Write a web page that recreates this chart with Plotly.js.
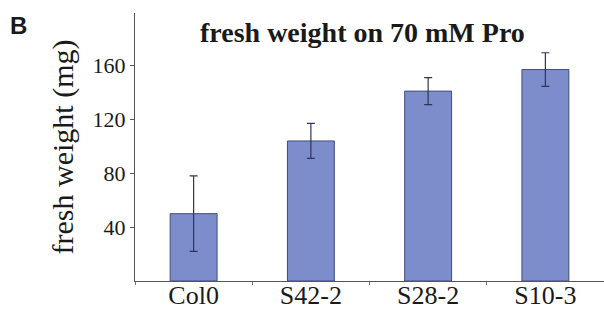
<!DOCTYPE html>
<html>
<head>
<meta charset="utf-8">
<script src="https://cdn.plot.ly/plotly-3.0.1.min.js"></script>
<style>html,body{margin:0;padding:0;background:#fff}#chart{width:604px;height:312px}</style>
</head>
<body>
<div id="chart"></div>
<script>
const categories = ["Col0", "S42-2", "S28-2", "S10-3"];
const freshWeight = [50, 104, 141, 157];
const errorValues = [28, 13, 10, 12.5];
const yTickValues = [40, 80, 120, 160];
const chartTitle = "fresh weight on 70 mM Pro";
const yAxisTitle = "fresh weight (mg)";
const panelLabel = "B";

const serif = "Liberation Serif, Times New Roman, serif";

const trace = {
  type: "bar",
  x: categories,
  y: freshWeight,
  width: 0.4,
  marker: { color: "#7d8dcb", line: { color: "#3f4b7c", width: 1 } },
  error_y: { type: "data", array: errorValues, visible: true, color: "#2e3558", thickness: 1.2, width: 4 },
  hoverinfo: "none"
};

const layout = {
  width: 604, height: 312,
  margin: { l: 135, r: 0, t: 13, b: 31, pad: 0 },
  paper_bgcolor: "#fff", plot_bgcolor: "#fff",
  showlegend: false,
  title: {
    text: "<b>" + chartTitle + "</b>",
    font: { family: serif, size: 28, color: "#1a1a1a" },
    x: 0.6, xanchor: "center", xref: "container",
    y: 1 - 32/312, yanchor: "middle", yref: "container"
  },
  xaxis: {
    type: "category",
    range: [-0.5, 3.5],
    showline: true, linecolor: "#555", linewidth: 1,
    ticks: "outside", tickson: "boundaries", ticklen: 3, tickcolor: "#777",
    tickfont: { family: serif, size: 26, color: "#1a1a1a" },
    ticklabelstandoff: -9,
    showgrid: false, zeroline: false, fixedrange: true
  },
  yaxis: {
    range: [0, 199],
    tickvals: yTickValues,
    showline: true, linecolor: "#555", linewidth: 1,
    ticks: "outside", ticklen: 4, tickcolor: "#555",
    tickfont: { family: serif, size: 22, color: "#1a1a1a" },
    showgrid: false, zeroline: false, fixedrange: true,
    title: { text: yAxisTitle, font: { family: serif, size: 30, color: "#1a1a1a" }, standoff: 10 }
  },
  annotations: [{
    text: "<b>" + panelLabel + "</b>",
    xref: "paper", yref: "paper", x: -135/469, y: 1,
    xanchor: "left", yanchor: "top", showarrow: false,
    xshift: 8, yshift: 3,
    font: { family: "Liberation Sans, Arial, sans-serif", size: 24, color: "#1a1a1a" }
  }],
  bargap: 0.6
};

Plotly.newPlot("chart", [trace], layout, { displayModeBar: false, staticPlot: true });
</script>
</body>
</html>
